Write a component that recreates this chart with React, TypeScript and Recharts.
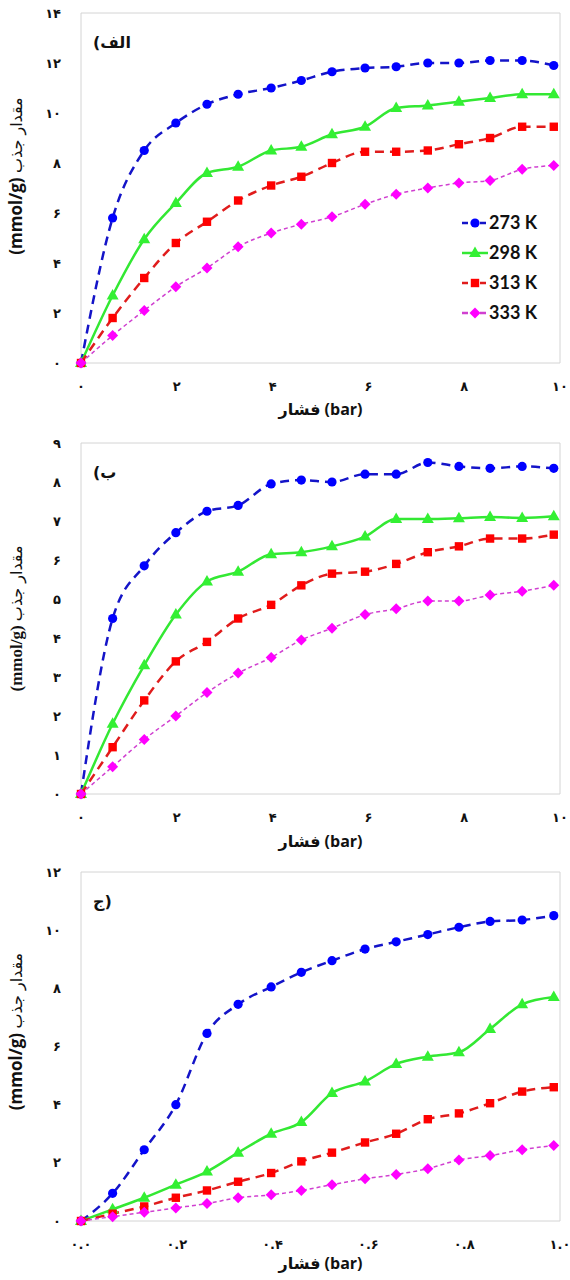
import { LineChart, Line, XAxis, YAxis, ReferenceArea } from "recharts";

// pressure (bar) for panels الف and ب
const pressureBar = [0, 0.66, 1.32, 1.98, 2.63, 3.28, 3.97, 4.6, 5.24, 5.93, 6.58, 7.24, 7.89, 8.54, 9.21, 9.87];
// pressure for panel ج
const pressureLow = [0, 0.066, 0.132, 0.198, 0.263, 0.328, 0.397, 0.46, 0.524, 0.593, 0.658, 0.724, 0.789, 0.854, 0.921, 0.987];

// panel الف
const a273 = [0, 5.8, 8.5, 9.6, 10.35, 10.75, 11.0, 11.3, 11.65, 11.8, 11.85, 12.0, 12.0, 12.1, 12.1, 11.9];
const a298 = [0, 2.7, 4.95, 6.4, 7.6, 7.85, 8.5, 8.65, 9.15, 9.45, 10.2, 10.3, 10.45, 10.6, 10.75, 10.75];
const a313 = [0, 1.8, 3.4, 4.8, 5.65, 6.5, 7.1, 7.45, 8.0, 8.45, 8.45, 8.5, 8.75, 9.0, 9.45, 9.45];
const a333 = [0, 1.1, 2.1, 3.05, 3.8, 4.65, 5.2, 5.55, 5.85, 6.35, 6.75, 7.0, 7.2, 7.3, 7.75, 7.9];

// panel ب
const b273 = [0, 4.5, 5.85, 6.7, 7.25, 7.4, 7.95, 8.05, 8.0, 8.2, 8.2, 8.5, 8.4, 8.35, 8.4, 8.35];
const b298 = [0, 1.8, 3.3, 4.6, 5.45, 5.7, 6.15, 6.2, 6.35, 6.6, 7.05, 7.05, 7.07, 7.1, 7.08, 7.12];
const b313 = [0, 1.2, 2.4, 3.4, 3.9, 4.5, 4.85, 5.35, 5.65, 5.7, 5.9, 6.2, 6.35, 6.55, 6.55, 6.65];
const b333 = [0, 0.7, 1.4, 2.0, 2.6, 3.1, 3.5, 3.95, 4.25, 4.6, 4.75, 4.95, 4.95, 5.1, 5.2, 5.35];

// panel ج
const c273 = [0, 0.95, 2.45, 4.0, 6.45, 7.45, 8.05, 8.55, 8.95, 9.35, 9.6, 9.85, 10.1, 10.3, 10.35, 10.5];
const c298 = [0, 0.4, 0.8, 1.25, 1.7, 2.35, 3.0, 3.4, 4.4, 4.8, 5.4, 5.65, 5.8, 6.6, 7.45, 7.7];
const c313 = [0, 0.25, 0.5, 0.8, 1.05, 1.35, 1.65, 2.05, 2.35, 2.7, 3.0, 3.5, 3.7, 4.05, 4.45, 4.6];
const c333 = [0, 0.15, 0.3, 0.45, 0.6, 0.8, 0.9, 1.05, 1.25, 1.45, 1.6, 1.8, 2.1, 2.25, 2.45, 2.6];

const ticks1 = [0, 2, 4, 6, 8, 10, 12, 14];
const ticks2 = [0, 1, 2, 3, 4, 5, 6, 7, 8, 9];
const ticks3 = [0, 2, 4, 6, 8, 10, 12];
const xTicks = [0, 2, 4, 6, 8, 10];
const xTicksLow = [0, 0.2, 0.4, 0.6, 0.8, 1.0];

const fa = (s: string) => s.replace(/\d/g, (d) => "۰۱۲۳۴۵۶۷۸۹"[+d]);

const series = [
  { key: "k273", name: "273 K", line: "#1414c8", fill: "#0000ff", dash: "9 6", w: 2.5, shape: "circle" },
  { key: "k298", name: "298 K", line: "#33e833", fill: "#33f033", dash: undefined, w: 2.5, shape: "triangle" },
  { key: "k313", name: "313 K", line: "#e01c1c", fill: "#ff0000", dash: "9 6", w: 2.5, shape: "square" },
  { key: "k333", name: "333 K", line: "#d040d0", fill: "#ff00ff", dash: "4 3", w: 1.5, shape: "diamond" },
];

function marker(shape: string, x: number, y: number, color: string, k?: any) {
  if (shape === "circle") return <circle key={k} cx={x} cy={y} r={4.6} fill={color} />;
  if (shape === "triangle")
    return <polygon key={k} points={`${x},${y - 6.5} ${x - 6},${y + 4} ${x + 6},${y + 4}`} fill={color} />;
  if (shape === "square") return <rect key={k} x={x - 4.2} y={y - 4.2} width={8.4} height={8.4} fill={color} />;
  return <polygon key={k} points={`${x},${y - 5.5} ${x + 5.5},${y} ${x},${y + 5.5} ${x - 5.5},${y}`} fill={color} />;
}

const bold = { fontWeight: 700 };
const tickStyle = { fill: "#111", fontSize: 13, fontWeight: 700, fontFamily: "DejaVu Sans" };

function LegendBox() {
  return (
    <svg width={100} height={120}>
      {series.map((s, i) => {
        const y = 13 + i * 30;
        return (
          <g key={s.key}>
            <line x1={2} x2={28} y1={y} y2={y} stroke={s.line} strokeWidth={2.5} strokeDasharray={s.dash ? "6 3" : undefined} />
            {marker(s.shape, 15, y, s.fill)}
            <text x={29} y={y + 6} fontSize={18} fontFamily="Lato, sans-serif" style={bold} fill="#111">
              {s.name}
            </text>
          </g>
        );
      })}
    </svg>
  );
}

function Panel({ x, vals, top, height, mTop, xAxisH, labelDy, yShift, yMax, yTicks, xMax, xTickList, low, tag, serifY, legend }: any) {
  const data = x.map((p: number, i: number) => ({
    p,
    k273: vals[0][i],
    k298: vals[1][i],
    k313: vals[2][i],
    k333: vals[3][i],
  }));
  return (
    <div style={{ position: "absolute", left: 0, top, width: 570, height }}>
      <LineChart width={570} height={height} data={data} margin={{ top: mTop, right: 10, left: 0, bottom: 0 }}>
        <XAxis
          dataKey="p"
          type="number"
          domain={[0, xMax]}
          ticks={xTickList}
          interval={0}
          axisLine={false}
          tickLine={false}
          height={xAxisH}
          tickMargin={13}
          tickFormatter={(v: number) => fa(low ? v.toFixed(1) : String(v))}
          tick={tickStyle}
          label={{
            content: (props: any) => {
              const vb = props.viewBox;
              return (
                <text x={vb.x + vb.width / 2} y={vb.y + labelDy} textAnchor="middle" fontSize={16} fontFamily="'Open Sans', 'DejaVu Sans'" style={bold} fill="#111">
                  فشار (bar)
                </text>
              );
            },
          }}
        />
        <YAxis
          type="number"
          domain={[0, yMax]}
          ticks={yTicks}
          interval={0}
          width={81}
          axisLine={false}
          tickLine={false}
          tickMargin={14}
          tickFormatter={(v: number) => fa(String(v))}
          tick={tickStyle}
          label={{
            content: (props: any) => {
              const vb = props.viewBox;
              const cy = vb.y + vb.height / 2 + yShift;
              return (
                <text x={22} y={cy} transform={`rotate(-90 22 ${cy})`} textAnchor="middle" fontSize={17} fontFamily={serifY ? "'Liberation Serif'" : "'Open Sans', 'DejaVu Sans'"} style={bold} fill="#111">
                  (mmol/g) <tspan fontWeight={400} fontFamily="'DejaVu Sans'" fontSize={16}>مقدار جذب</tspan>
                </text>
              );
            },
          }}
        />
        <ReferenceArea
          x1={0}
          x2={xMax}
          y1={0}
          y2={yMax}
          fill="none"
          stroke="#d4d4d4"
          strokeWidth={1}
          label={{
            content: (props: any) => {
              const vb = props.viewBox;
              return (
                <text x={vb.x + 12} y={vb.y + 35} fontSize={16} fontFamily="'DejaVu Sans'" style={bold} fill="#111">
                  {tag}
                </text>
              );
            },
          }}
        />
        {series.map((s) => (
          <Line
            key={s.key}
            type="monotone"
            dataKey={s.key}
            name={s.name}
            stroke={s.line}
            strokeWidth={s.w}
            strokeDasharray={s.dash}
            dot={(d: any) => marker(s.shape, d.cx, d.cy, s.fill, d.index)}
            activeDot={false}
            isAnimationActive={false}
          />
        ))}
      </LineChart>
      {legend && (
        <div style={{ position: "absolute", left: 460, top: 210 }}>
          <LegendBox />
        </div>
      )}
    </div>
  );
}

export default function App() {
  return (
    <div style={{ position: "absolute", left: 0, top: 0, width: 570, height: 1280, background: "#fff" }}>
      <Panel x={pressureBar} vals={[a273, a298, a313, a333]} top={0} height={425} mTop={13} xAxisH={62} labelDy={52} yShift={-12} yMax={14} yTicks={ticks1} xMax={10} xTickList={xTicks} tag="(الف" legend />
      <Panel x={pressureBar} vals={[b273, b298, b313, b333]} top={425} height={433} mTop={18} xAxisH={64} labelDy={53} yShift={0} yMax={9} yTicks={ticks2} xMax={10} xTickList={xTicks} tag="(ب" serifY />
      <Panel x={pressureLow} vals={[c273, c298, c313, c333]} top={850} height={430} mTop={22} xAxisH={59} labelDy={48} yShift={-15} yMax={12} yTicks={ticks3} xMax={1} xTickList={xTicksLow} tag="ج)" low />
    </div>
  );
}
